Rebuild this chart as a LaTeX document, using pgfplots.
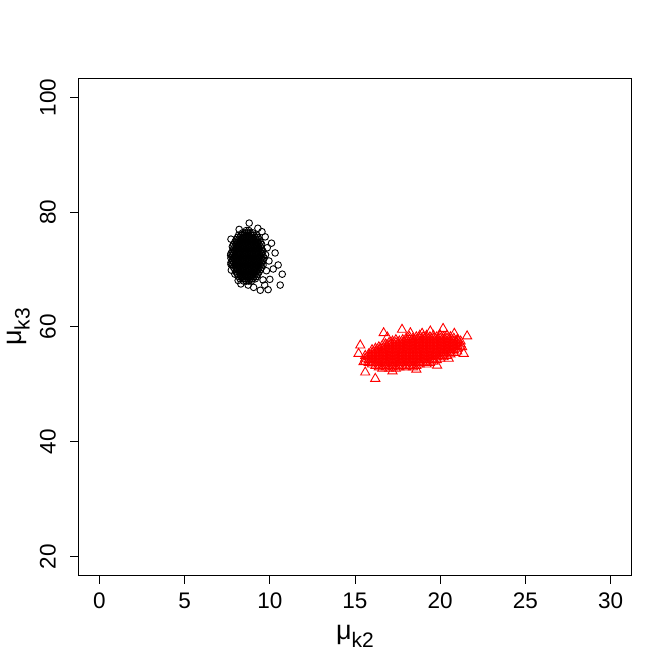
\documentclass[border=0pt]{standalone}
\usepackage{fontspec}
\setmainfont{Liberation Sans}
\usepackage{pgfplots}
\pgfplotsset{compat=1.18}
\begin{document}
\begin{tikzpicture}[font=\fontsize{22bp}{26bp}\selectfont]
\useasboundingbox (-79bp,-97bp) rectangle (593bp,575bp);
\begin{axis}[at={(0,0)}, anchor=south west,
  width=552bp, height=496bp, scale only axis,
  xmin=-1.2, xmax=31.2, ymin=16.8, ymax=103.2,
  xtick={0,5,...,30}, ytick={20,40,...,100},
  xtick pos=bottom, ytick pos=left,
  tick align=outside, major tick length=8.5bp,
  axis line style={line width=1bp},
  tick style={line width=1bp, black},
  /pgf/number format/assume math mode=true,
  ticklabel style={font=\fontsize{22.5bp}{26bp}\selectfont},
  xticklabel style={anchor=north, inner sep=0pt, yshift=-9.5bp},
  yticklabel style={xshift=-14.5bp, rotate=90, anchor=south, inner sep=0pt},
  xlabel={\fontsize{27bp}{30bp}\selectfont μ\raisebox{-8bp}{\fontsize{21bp}{24bp}\selectfont k2}},
  ylabel={\fontsize{27bp}{30bp}\selectfont μ\raisebox{-8bp}{\fontsize{21bp}{24bp}\selectfont k3}},
  xlabel style={at={(axis description cs:0.5,-0.13)}, anchor=base, inner sep=0pt},
  ylabel style={at={(axis description cs:-0.104,0.5)}, anchor=base, inner sep=0pt},
  clip=false,
]
% cluster 1 (black circles)
\addplot[only marks, mark=o, mark size=3.3bp, mark options={line width=0.9bp, black}] coordinates {
(8.47,68.0) (8.62,68.0) (8.77,68.0) (8.92,68.0)
(8.25,68.4) (8.40,68.4) (8.55,68.4) (8.70,68.4) (8.85,68.4) (9.00,68.4) (9.15,68.4)
(8.17,68.8) (8.32,68.8) (8.47,68.8) (8.62,68.8) (8.77,68.8) (8.92,68.8) (9.07,68.8) (9.22,68.8)
(7.95,69.2) (8.10,69.2) (8.25,69.2) (8.40,69.2) (8.55,69.2) (8.70,69.2) (8.85,69.2) (9.00,69.2) (9.15,69.2) (9.30,69.2)
(8.02,69.6) (8.17,69.6) (8.32,69.6) (8.47,69.6) (8.62,69.6) (8.77,69.6) (8.92,69.6) (9.07,69.6) (9.22,69.6) (9.37,69.6)
(7.95,70.0) (8.10,70.0) (8.25,70.0) (8.40,70.0) (8.55,70.0) (8.70,70.0) (8.85,70.0) (9.00,70.0) (9.15,70.0) (9.30,70.0) (9.45,70.0)
(7.87,70.4) (8.02,70.4) (8.17,70.4) (8.32,70.4) (8.47,70.4) (8.62,70.4) (8.77,70.4) (8.92,70.4) (9.07,70.4) (9.22,70.4) (9.37,70.4) (9.52,70.4)
(7.80,70.8) (7.95,70.8) (8.10,70.8) (8.25,70.8) (8.40,70.8) (8.55,70.8) (8.70,70.8) (8.85,70.8) (9.00,70.8) (9.15,70.8) (9.30,70.8) (9.45,70.8) (9.60,70.8)
(7.72,71.2) (7.87,71.2) (8.02,71.2) (8.17,71.2) (8.32,71.2) (8.47,71.2) (8.62,71.2) (8.77,71.2) (8.92,71.2) (9.07,71.2) (9.22,71.2) (9.37,71.2) (9.52,71.2)
(7.80,71.6) (7.95,71.6) (8.10,71.6) (8.25,71.6) (8.40,71.6) (8.55,71.6) (8.70,71.6) (8.85,71.6) (9.00,71.6) (9.15,71.6) (9.30,71.6) (9.45,71.6) (9.60,71.6)
(7.72,72.0) (7.87,72.0) (8.02,72.0) (8.17,72.0) (8.32,72.0) (8.47,72.0) (8.62,72.0) (8.77,72.0) (8.92,72.0) (9.07,72.0) (9.22,72.0) (9.37,72.0) (9.52,72.0) (9.67,72.0)
(7.80,72.4) (7.95,72.4) (8.10,72.4) (8.25,72.4) (8.40,72.4) (8.55,72.4) (8.70,72.4) (8.85,72.4) (9.00,72.4) (9.15,72.4) (9.30,72.4) (9.45,72.4) (9.60,72.4)
(7.72,72.8) (7.87,72.8) (8.02,72.8) (8.17,72.8) (8.32,72.8) (8.47,72.8) (8.62,72.8) (8.77,72.8) (8.92,72.8) (9.07,72.8) (9.22,72.8) (9.37,72.8) (9.52,72.8)
(7.80,73.2) (7.95,73.2) (8.10,73.2) (8.25,73.2) (8.40,73.2) (8.55,73.2) (8.70,73.2) (8.85,73.2) (9.00,73.2) (9.15,73.2) (9.30,73.2) (9.45,73.2) (9.60,73.2)
(7.87,73.6) (8.02,73.6) (8.17,73.6) (8.32,73.6) (8.47,73.6) (8.62,73.6) (8.77,73.6) (8.92,73.6) (9.07,73.6) (9.22,73.6) (9.37,73.6) (9.52,73.6)
(7.80,74.0) (7.95,74.0) (8.10,74.0) (8.25,74.0) (8.40,74.0) (8.55,74.0) (8.70,74.0) (8.85,74.0) (9.00,74.0) (9.15,74.0) (9.30,74.0) (9.45,74.0)
(7.87,74.4) (8.02,74.4) (8.17,74.4) (8.32,74.4) (8.47,74.4) (8.62,74.4) (8.77,74.4) (8.92,74.4) (9.07,74.4) (9.22,74.4) (9.37,74.4) (9.52,74.4)
(7.95,74.8) (8.10,74.8) (8.25,74.8) (8.40,74.8) (8.55,74.8) (8.70,74.8) (8.85,74.8) (9.00,74.8) (9.15,74.8) (9.30,74.8) (9.45,74.8)
(8.02,75.2) (8.17,75.2) (8.32,75.2) (8.47,75.2) (8.62,75.2) (8.77,75.2) (8.92,75.2) (9.07,75.2) (9.22,75.2) (9.37,75.2)
(8.10,75.6) (8.25,75.6) (8.40,75.6) (8.55,75.6) (8.70,75.6) (8.85,75.6) (9.00,75.6) (9.15,75.6) (9.30,75.6)
(8.17,76.0) (8.32,76.0) (8.47,76.0) (8.62,76.0) (8.77,76.0) (8.92,76.0) (9.07,76.0) (9.22,76.0)
(8.40,76.4) (8.55,76.4) (8.70,76.4) (8.85,76.4) (9.00,76.4)
(8.62,76.8) (8.77,76.8)
(8.79,78.1) (10.31,72.9) (10.49,70.8) (10.73,69.2) (10.61,67.3) (9.44,66.4) (8.73,67.3)
(10.10,74.6) (9.54,76.6) (9.73,75.7) (7.72,75.3) (7.74,69.9) (8.14,68.1) (9.90,66.5)
(9.95,71.5) (10.00,68.3) (9.70,67.3) (8.30,67.5) (7.70,72.5) (7.72,70.9) (9.85,73.8)
(9.80,69.8) (9.05,66.9) (8.20,77.0) (9.30,77.2) (9.75,72.6) (9.60,68.2) (10.20,70.1)
};
% cluster 2 (red triangles)
\addplot[only marks, mark=triangle, mark size=5.3bp, mark options={line width=0.9bp, red}] coordinates {
(15.6,54.0) (15.6,54.5) (15.6,55.0)
(15.8,53.75) (15.8,54.25) (15.8,54.75) (15.8,55.25)
(16.0,53.5) (16.0,54.0) (16.0,54.5) (16.0,55.0) (16.0,55.5) (16.0,56.0)
(16.2,53.25) (16.2,53.75) (16.2,54.25) (16.2,54.75) (16.2,55.25) (16.2,55.75) (16.2,56.25)
(16.4,53.0) (16.4,53.5) (16.4,54.0) (16.4,54.5) (16.4,55.0) (16.4,55.5) (16.4,56.0) (16.4,56.5)
(16.6,52.75) (16.6,53.25) (16.6,53.75) (16.6,54.25) (16.6,54.75) (16.6,55.25) (16.6,55.75) (16.6,56.25) (16.6,56.75)
(16.8,53.0) (16.8,53.5) (16.8,54.0) (16.8,54.5) (16.8,55.0) (16.8,55.5) (16.8,56.0) (16.8,56.5) (16.8,57.0)
(17.0,52.75) (17.0,53.25) (17.0,53.75) (17.0,54.25) (17.0,54.75) (17.0,55.25) (17.0,55.75) (17.0,56.25) (17.0,56.75) (17.0,57.25)
(17.2,53.0) (17.2,53.5) (17.2,54.0) (17.2,54.5) (17.2,55.0) (17.2,55.5) (17.2,56.0) (17.2,56.5) (17.2,57.0) (17.2,57.5)
(17.4,52.75) (17.4,53.25) (17.4,53.75) (17.4,54.25) (17.4,54.75) (17.4,55.25) (17.4,55.75) (17.4,56.25) (17.4,56.75) (17.4,57.25) (17.4,57.75)
(17.6,53.0) (17.6,53.5) (17.6,54.0) (17.6,54.5) (17.6,55.0) (17.6,55.5) (17.6,56.0) (17.6,56.5) (17.6,57.0) (17.6,57.5)
(17.8,53.25) (17.8,53.75) (17.8,54.25) (17.8,54.75) (17.8,55.25) (17.8,55.75) (17.8,56.25) (17.8,56.75) (17.8,57.25) (17.8,57.75)
(18.0,53.0) (18.0,53.5) (18.0,54.0) (18.0,54.5) (18.0,55.0) (18.0,55.5) (18.0,56.0) (18.0,56.5) (18.0,57.0) (18.0,57.5) (18.0,58.0)
(18.2,53.25) (18.2,53.75) (18.2,54.25) (18.2,54.75) (18.2,55.25) (18.2,55.75) (18.2,56.25) (18.2,56.75) (18.2,57.25) (18.2,57.75) (18.2,58.25)
(18.4,53.0) (18.4,53.5) (18.4,54.0) (18.4,54.5) (18.4,55.0) (18.4,55.5) (18.4,56.0) (18.4,56.5) (18.4,57.0) (18.4,57.5) (18.4,58.0)
(18.6,53.25) (18.6,53.75) (18.6,54.25) (18.6,54.75) (18.6,55.25) (18.6,55.75) (18.6,56.25) (18.6,56.75) (18.6,57.25) (18.6,57.75) (18.6,58.25)
(18.8,53.5) (18.8,54.0) (18.8,54.5) (18.8,55.0) (18.8,55.5) (18.8,56.0) (18.8,56.5) (18.8,57.0) (18.8,57.5) (18.8,58.0) (18.8,58.5)
(19.0,53.75) (19.0,54.25) (19.0,54.75) (19.0,55.25) (19.0,55.75) (19.0,56.25) (19.0,56.75) (19.0,57.25) (19.0,57.75) (19.0,58.25)
(19.2,53.5) (19.2,54.0) (19.2,54.5) (19.2,55.0) (19.2,55.5) (19.2,56.0) (19.2,56.5) (19.2,57.0) (19.2,57.5) (19.2,58.0) (19.2,58.5)
(19.4,53.75) (19.4,54.25) (19.4,54.75) (19.4,55.25) (19.4,55.75) (19.4,56.25) (19.4,56.75) (19.4,57.25) (19.4,57.75) (19.4,58.25)
(19.6,54.0) (19.6,54.5) (19.6,55.0) (19.6,55.5) (19.6,56.0) (19.6,56.5) (19.6,57.0) (19.6,57.5) (19.6,58.0) (19.6,58.5)
(19.8,54.25) (19.8,54.75) (19.8,55.25) (19.8,55.75) (19.8,56.25) (19.8,56.75) (19.8,57.25) (19.8,57.75) (19.8,58.25)
(20.0,54.5) (20.0,55.0) (20.0,55.5) (20.0,56.0) (20.0,56.5) (20.0,57.0) (20.0,57.5) (20.0,58.0) (20.0,58.5)
(20.2,54.75) (20.2,55.25) (20.2,55.75) (20.2,56.25) (20.2,56.75) (20.2,57.25) (20.2,57.75) (20.2,58.25)
(20.4,55.0) (20.4,55.5) (20.4,56.0) (20.4,56.5) (20.4,57.0) (20.4,57.5) (20.4,58.0) (20.4,58.5)
(20.6,55.25) (20.6,55.75) (20.6,56.25) (20.6,56.75) (20.6,57.25) (20.6,57.75) (20.6,58.25)
(20.8,55.5) (20.8,56.0) (20.8,56.5) (20.8,57.0) (20.8,57.5) (20.8,58.0)
(21.0,55.75) (21.0,56.25) (21.0,56.75) (21.0,57.25) (21.0,57.75)
(21.2,56.5) (21.2,57.0) (21.2,57.5)
(15.31,56.8) (15.21,55.35) (15.5,53.9) (15.6,52.1) (16.19,51.0) (16.68,58.95) (17.76,59.55)
(18.25,58.95) (19.42,59.25) (20.17,59.7) (20.83,58.85) (21.58,58.4) (21.29,56.5) (21.38,55.35)
(20.5,54.5) (19.82,53.3) (18.94,58.85) (20.0,58.55) (21.05,57.7) (17.2,52.3) (18.6,52.6) (16.9,58.2)
};
\end{axis}
\end{tikzpicture}
\end{document}
